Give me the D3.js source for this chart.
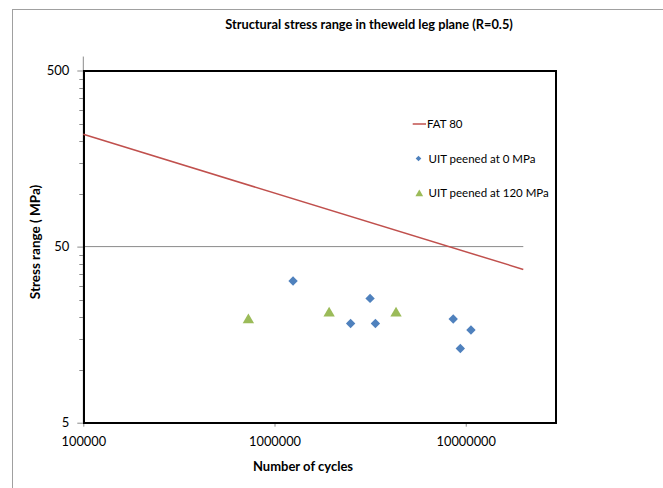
<!DOCTYPE html>
<html>
<head>
<meta charset="utf-8">
<script src="https://cdn.jsdelivr.net/npm/d3@7"></script>
<style>
	body { margin: 0; background: #fff; }
	text { font-family: Lato, "Liberation Sans", sans-serif; fill: #000; }
</style>
</head>
<body>
<div id="chart"></div>
<script>
// FAT 80 design line (end points)
var fatN = [100000, 20000000];
var fatS = [217, 37.1];

// UIT peened at 0 MPa
var uit0N = [1250000, 2500000, 3160000, 3370000, 8600000, 10650000, 9370000];
var uit0S = [31.9, 18.3, 25.4, 18.3, 19.4, 16.8, 13.2];

// UIT peened at 120 MPa
var uit120N = [730000, 1930000, 4320000];
var uit120S = [19.4, 21.2, 21.2];

var xTicks = [100000, 1000000, 10000000];
var yTicks = [5, 50, 500];
var yMinor = [10, 15, 20, 25, 30, 35, 40, 45, 100, 150, 200, 250, 300, 350, 400, 450];
var legendNames = ["FAT 80", "UIT peened at 0 MPa", "UIT peened at 120 MPa"];

var W = 663, H = 488;

var svg = d3.select("#chart")
			.append("svg")
				.attr("width", W)
				.attr("height", H)
				.attr("viewBox", [0, 0, W, H]);

// chart area border
svg.append("rect")
	.attr("x", 12.5).attr("y", 9.5)
	.attr("width", 700).attr("height", 500)
	.attr("fill", "none")
	.attr("stroke", "#a0a0a0");

var x = d3.scaleLog().domain([100000, 20000000]).range([83.3, 523.3]);
var y = d3.scaleLog().domain([5, 500]).range([422.7, 70.5]);

// gridline at 50
svg.append("line")
	.attr("x1", x(100000)).attr("x2", x(20000000))
	.attr("y1", y(50)).attr("y2", y(50))
	.attr("stroke", "#8a8a8a").attr("stroke-width", 1);

// y axis minor ticks
svg.selectAll(".minor")
	.data(yMinor)
	.join("line")
	.attr("class", "minor")
	.attr("x1", x(100000) - 4).attr("x2", x(100000))
	.attr("y1", d => Math.round(y(d)) + 0.5).attr("y2", d => Math.round(y(d)) + 0.5)
	.attr("stroke", "#8a8a8a");

// y axis line extends a bit above the top
svg.append("line")
	.attr("x1", x(100000)).attr("x2", x(100000))
	.attr("y1", y(600)).attr("y2", y(5))
	.attr("stroke", "#8a8a8a");

var yAxis = svg.append("g")
	.attr("transform", "translate(" + x(100000) + ",0)")
	.call(d3.axisLeft(y).tickValues(yTicks).tickFormat(d3.format("d")).tickSize(6).tickPadding(8));
yAxis.select(".domain").remove();
yAxis.selectAll("line").attr("stroke", "#8a8a8a");
yAxis.selectAll("text").style("font-size", "13px");

var xAxis = svg.append("g")
	.attr("transform", "translate(0," + y(5) + ")")
	.call(d3.axisBottom(x).tickValues(xTicks).tickFormat(d3.format("d")).tickSize(4).tickPadding(10));
xAxis.select(".domain").attr("stroke", "#8a8a8a").attr("d", "M" + x(100000) + ",0.5H" + x(20000000));
xAxis.selectAll("line").attr("stroke", "#8a8a8a");
xAxis.selectAll("text").style("font-size", "12.8px");

// plot area border
svg.append("rect")
	.attr("x", 84).attr("y", 71)
	.attr("width", 472).attr("height", 352)
	.attr("fill", "none")
	.attr("stroke", "#000")
	.attr("stroke-width", 2);

// FAT 80 line
var fat = fatN.map((n, i) => [n, fatS[i]]);
svg.append("path")
	.datum(fat)
	.attr("fill", "none")
	.attr("stroke", "#c0504d")
	.attr("stroke-width", 1.5)
	.attr("d", d3.line().x(d => x(d[0])).y(d => y(d[1])));

var diamond = d3.symbol().type(d3.symbolDiamond2).size(56);
var triangle = d3.symbol().type(d3.symbolTriangle).size(56);

svg.selectAll(".uit0")
	.data(uit0N.map((n, i) => [n, uit0S[i]]))
	.join("path")
	.attr("class", "uit0")
	.attr("d", diamond)
	.attr("transform", d => "translate(" + x(d[0]) + "," + y(d[1]) + ")")
	.attr("fill", "#4f81bd");

svg.selectAll(".uit120")
	.data(uit120N.map((n, i) => [n, uit120S[i]]))
	.join("path")
	.attr("class", "uit120")
	.attr("d", triangle)
	.attr("transform", d => "translate(" + x(d[0]) + "," + (y(d[1]) + 1) + ")")
	.attr("fill", "#9bbb59");

// legend
var leg = svg.append("g");
leg.append("line")
	.attr("x1", 412.7).attr("x2", 426).attr("y1", 124).attr("y2", 124)
	.attr("stroke", "#c0504d").attr("stroke-width", 1.5);
leg.append("path")
	.attr("d", d3.symbol().type(d3.symbolDiamond2).size(20))
	.attr("transform", "translate(418.5,158.5)")
	.attr("fill", "#4f81bd");
leg.append("path")
	.attr("d", d3.symbol().type(d3.symbolTriangle).size(26))
	.attr("transform", "translate(419.3,194)")
	.attr("fill", "#9bbb59");
leg.selectAll(".legtext")
	.data(legendNames)
	.join("text")
	.attr("class", "legtext")
	.attr("x", (d, i) => i == 0 ? 427 : 428.5)
	.attr("y", (d, i) => [124, 158.5, 193][i])
	.attr("dy", "0.35em")
	.style("font-size", "11.5px")
	.text(d => d);

// titles
svg.append("text")
	.attr("x", 369).attr("y", 25)
	.attr("dy", "0.35em")
	.attr("text-anchor", "middle")
	.style("font-size", "12.8px")
	.style("font-weight", "bold")
	.text("Structural stress range in theweld leg plane (R=0.5)");

svg.append("text")
	.attr("x", 303).attr("y", 466)
	.attr("dy", "0.35em")
	.attr("text-anchor", "middle")
	.style("font-size", "13px")
	.style("font-weight", "bold")
	.text("Number of cycles");

svg.append("text")
	.attr("transform", "translate(35,242) rotate(-90)")
	.attr("dy", "0.35em")
	.attr("text-anchor", "middle")
	.style("font-size", "13.5px")
	.style("font-weight", "bold")
	.text("Stress range ( MPa)");
</script>
</body>
</html>
